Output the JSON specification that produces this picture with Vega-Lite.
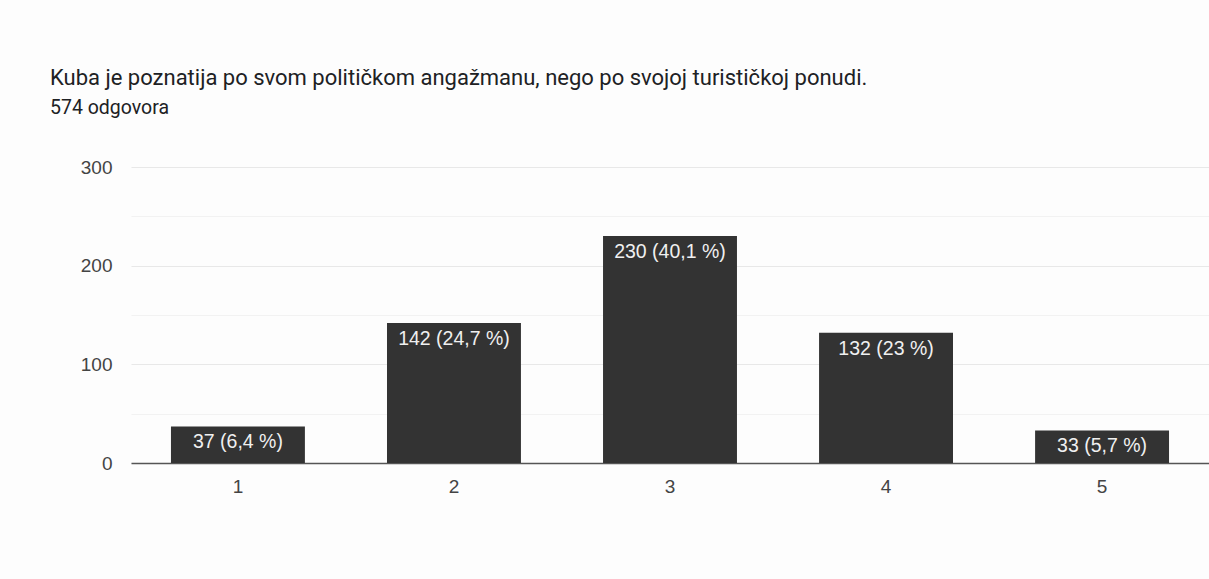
{
  "$schema": "https://vega.github.io/schema/vega-lite/v6.json",
  "autosize": {"type": "none"},
  "padding": {"left": 131, "top": 167, "right": 0, "bottom": 116},
  "width": 1078,
  "height": 296,
  "background": "#fdfdfd",
  "title": {
    "text": "Kuba je poznatija po svom političkom angažmanu, nego po svojoj turističkoj ponudi.",
    "subtitle": "574 odgovora",
    "anchor": "start",
    "frame": "group",
    "dx": -81,
    "offset": 40,
    "font": "Roboto",
    "fontSize": 22,
    "fontWeight": "normal",
    "color": "#202124",
    "subtitleFont": "Roboto",
    "subtitleFontSize": 19.5,
    "subtitleColor": "#202124",
    "subtitlePadding": 9
  },
  "data": {
    "values": [
      {"ocjena": "1", "broj": 37, "oznaka": "37 (6,4 %)"},
      {"ocjena": "2", "broj": 142, "oznaka": "142 (24,7 %)"},
      {"ocjena": "3", "broj": 230, "oznaka": "230 (40,1 %)"},
      {"ocjena": "4", "broj": 132, "oznaka": "132 (23 %)"},
      {"ocjena": "5", "broj": 33, "oznaka": "33 (5,7 %)"}
    ]
  },
  "encoding": {
    "x": {
      "field": "ocjena",
      "type": "nominal",
      "sort": null,
      "scale": {"paddingInner": 0.38, "paddingOuter": 0.185},
      "axis": {
        "title": null,
        "labelAngle": 0,
        "ticks": false,
        "domainColor": "#555555",
        "domainWidth": 1.5,
        "labelFont": "Liberation Sans",
        "labelFontSize": 19,
        "labelColor": "#444444",
        "labelPadding": 14,
        "grid": false
      }
    },
    "y": {
      "field": "broj",
      "type": "quantitative",
      "scale": {"domain": [0, 300], "nice": false},
      "axis": {
        "title": null,
        "values": [0, 50, 100, 150, 200, 250, 300],
        "labelExpr": "datum.value % 100 === 0 ? datum.label : ''",
        "domain": false,
        "ticks": false,
        "labelPadding": 19,
        "labelFont": "Liberation Sans",
        "labelFontSize": 19,
        "labelColor": "#444444",
        "gridColor": {"condition": {"test": "datum.value % 100 === 0", "value": "#e8e8e8"}, "value": "#f2f2f2"},
        "gridWidth": 1.2
      }
    }
  },
  "layer": [
    {"mark": {"type": "bar", "color": "#333333"}},
    {
      "mark": {"type": "text", "color": "#f0f0f0", "baseline": "alphabetic", "dy": 22, "font": "Liberation Sans", "fontSize": 19.5},
      "encoding": {"text": {"field": "oznaka"}}
    }
  ],
  "config": {"view": {"stroke": null}}
}
